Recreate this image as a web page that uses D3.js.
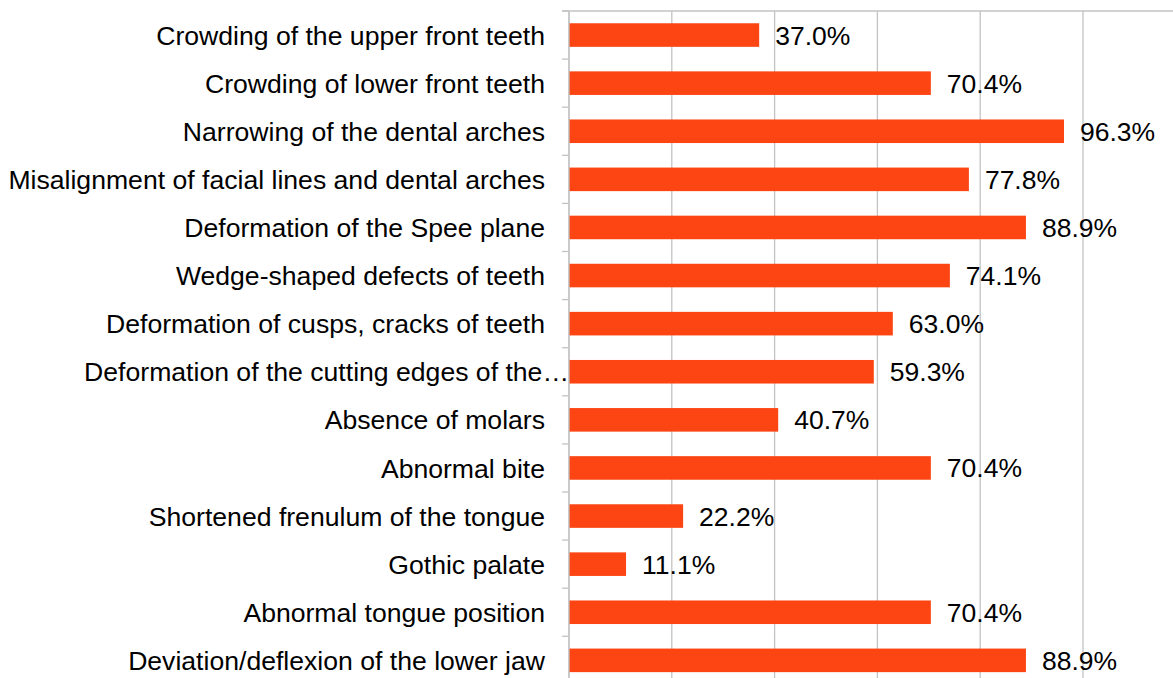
<!DOCTYPE html>
<html>
<head>
<meta charset="utf-8">
<script src="https://cdn.jsdelivr.net/npm/d3@7"></script>
<style>
  body { margin: 0; background: #fff; }
  text { font-family: "Liberation Sans", Arial, sans-serif; }
</style>
</head>
<body>
<div id="container"></div>
<script>
const width = 1173,
  height = 678;

// data
const categories = [
  "Crowding of the upper front teeth",
  "Crowding of lower front teeth",
  "Narrowing of the dental arches",
  "Misalignment of facial lines and dental arches",
  "Deformation of the Spee plane",
  "Wedge-shaped defects of teeth",
  "Deformation of cusps, cracks of teeth",
  "Deformation of the cutting edges of the\u2026",
  "Absence of molars",
  "Abnormal bite",
  "Shortened frenulum of the tongue",
  "Gothic palate",
  "Abnormal tongue position",
  "Deviation/deflexion of the lower jaw"
];
const values = [37.0, 70.4, 96.3, 77.8, 88.9, 74.1, 63.0, 59.3, 40.7, 70.4, 22.2, 11.1, 70.4, 88.9];
const gridTicks = [0, 20, 40, 60, 80, 100];

const plotLeft = 569, plotRight = 1083, plotTop = 11, step = 48.1;

const svg = d3.select("#container").append("svg")
  .attr("width", width)
  .attr("height", height)

/* SCALES */
const xScale = d3.scaleLinear()
  .domain([0, 100])
  .range([plotLeft, plotRight])

const yScale = d3.scaleBand()
  .domain(categories)
  .range([plotTop, plotTop + step * categories.length])
  .paddingInner(0.51)
  .paddingOuter(0.255)

const gap = yScale.step() * 0.51 / 2

// gridlines
svg.selectAll("line.grid")
  .data(gridTicks)
  .join("line")
  .attr("class", "grid")
  .attr("x1", d => xScale(d))
  .attr("x2", d => xScale(d))
  .attr("y1", plotTop)
  .attr("y2", height)
  .attr("stroke", "#c3c3c3")
  .attr("stroke-width", 1.3)

// top line
svg.append("line")
  .attr("x1", plotLeft - 7)
  .attr("x2", width)
  .attr("y1", plotTop)
  .attr("y2", plotTop)
  .attr("stroke", "#c3c3c3")
  .attr("stroke-width", 1.3)

// category tick marks
const boundaries = categories.map(c => yScale(c) - gap)
boundaries.push(yScale(categories[categories.length - 1]) + yScale.bandwidth() + gap)
svg.selectAll("line.tick")
  .data(boundaries)
  .join("line")
  .attr("class", "tick")
  .attr("x1", plotLeft - 7)
  .attr("x2", plotLeft)
  .attr("y1", d => d)
  .attr("y2", d => d)
  .attr("stroke", "#c3c3c3")
  .attr("stroke-width", 1.3)

// bars
svg.selectAll("rect.bar")
  .data(values)
  .join("rect")
  .attr("class", "bar")
  .attr("x", xScale(0))
  .attr("y", (d, i) => yScale(categories[i]))
  .attr("width", d => xScale(d) - xScale(0))
  .attr("height", yScale.bandwidth())
  .attr("fill", "#fc4512")

// value labels
svg.selectAll("text.val")
  .data(values)
  .join("text")
  .attr("class", "val")
  .attr("x", d => xScale(d) + 16)
  .attr("y", (d, i) => yScale(categories[i]) + yScale.bandwidth() / 2)
  .attr("dy", "0.36em")
  .style("font-size", "26.5px")
  .attr("fill", "#000")
  .text(d => d.toFixed(1) + "%")

// category labels
svg.selectAll("text.cat")
  .data(categories)
  .join("text")
  .attr("class", "cat")
  .attr("text-anchor", "end")
  .attr("x", (d, i) => i === 7 ? plotLeft : 545)
  .attr("y", d => yScale(d) + yScale.bandwidth() / 2)
  .attr("dy", "0.36em")
  .style("font-size", "26.6px")
  .attr("fill", "#000")
  .text(d => d)

// axis line
svg.append("line")
  .attr("x1", plotLeft)
  .attr("x2", plotLeft)
  .attr("y1", plotTop)
  .attr("y2", height)
  .attr("stroke", "#c3c3c3")
  .attr("stroke-width", 1.3)
</script>
</body>
</html>
